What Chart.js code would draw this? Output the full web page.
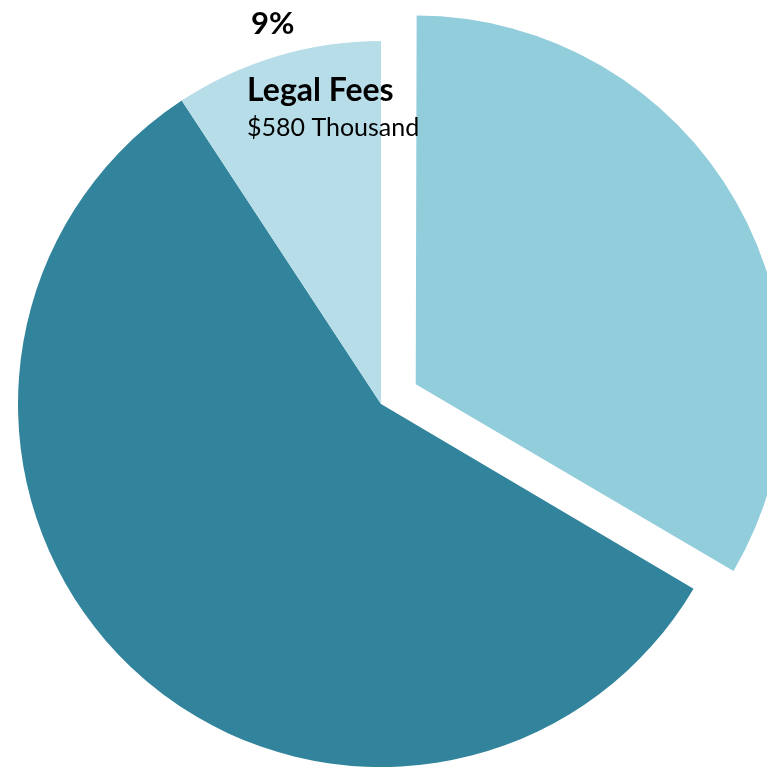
<!DOCTYPE html>
<html>
<head>
<meta charset="utf-8">
<script src="https://cdn.jsdelivr.net/npm/chart.js@4"></script>
<style>
  html, body { margin: 0; padding: 0; background: #fff; overflow: hidden; width: 767px; height: 768px; }
  #wrap { position: absolute; left: -69px; top: -46px; width: 900px; height: 900px; }
</style>
</head>
<body>
<div id="wrap"><canvas id="costChart"></canvas></div>
<script>
// Cost breakdown, in thousands of dollars
const categories = ['Settlements', 'Operating Costs', 'Legal Fees'];
const amounts = [2100, 3590, 580];
const sliceColors = ['#92CDDC', '#31849B', '#B7DDE8'];
const sliceOffsets = [160, 0, 0];
const labelledIndex = 2;

const total = amounts.reduce((a, b) => a + b, 0);

// Writes the percentage, name and amount for the labelled slice
const sliceLabel = {
    id: 'sliceLabel',
    afterDatasetsDraw(chart) {
        const arc = chart.getDatasetMeta(0).data[labelledIndex];
        const ctx = chart.ctx;
        const pct = Math.round(amounts[labelledIndex] / total * 100) + '%';
        const left = arc.x - 134;
        const top = arc.y - arc.outerRadius;
        ctx.save();
        ctx.fillStyle = '#000';
        ctx.textAlign = 'left';
        ctx.textBaseline = 'alphabetic';
        ctx.font = 'bold 31px Lato';
        ctx.fillText(pct, left + 4, top - 7);
        ctx.font = 'bold 32px Lato';
        ctx.fillText(categories[labelledIndex], left, top + 60);
        ctx.font = '25px Lato';
        ctx.fillText('$' + amounts[labelledIndex] + ' Thousand', left, top + 95);
        ctx.restore();
    }
};

const costCtx = document.getElementById('costChart').getContext('2d');
const costChart = new Chart(costCtx, {
    type: 'pie',
    data: {
        labels: categories,
        datasets: [{
            data: amounts,
            backgroundColor: sliceColors,
            borderWidth: 0,
            offset: sliceOffsets
        }]
    },
    options: {
        responsive: true,
        maintainAspectRatio: false,
        animation: false,
        layout: { padding: 7 },
        plugins: { legend: { display: false }, tooltip: { enabled: false } }
    },
    plugins: [sliceLabel]
});
</script>
</body>
</html>
